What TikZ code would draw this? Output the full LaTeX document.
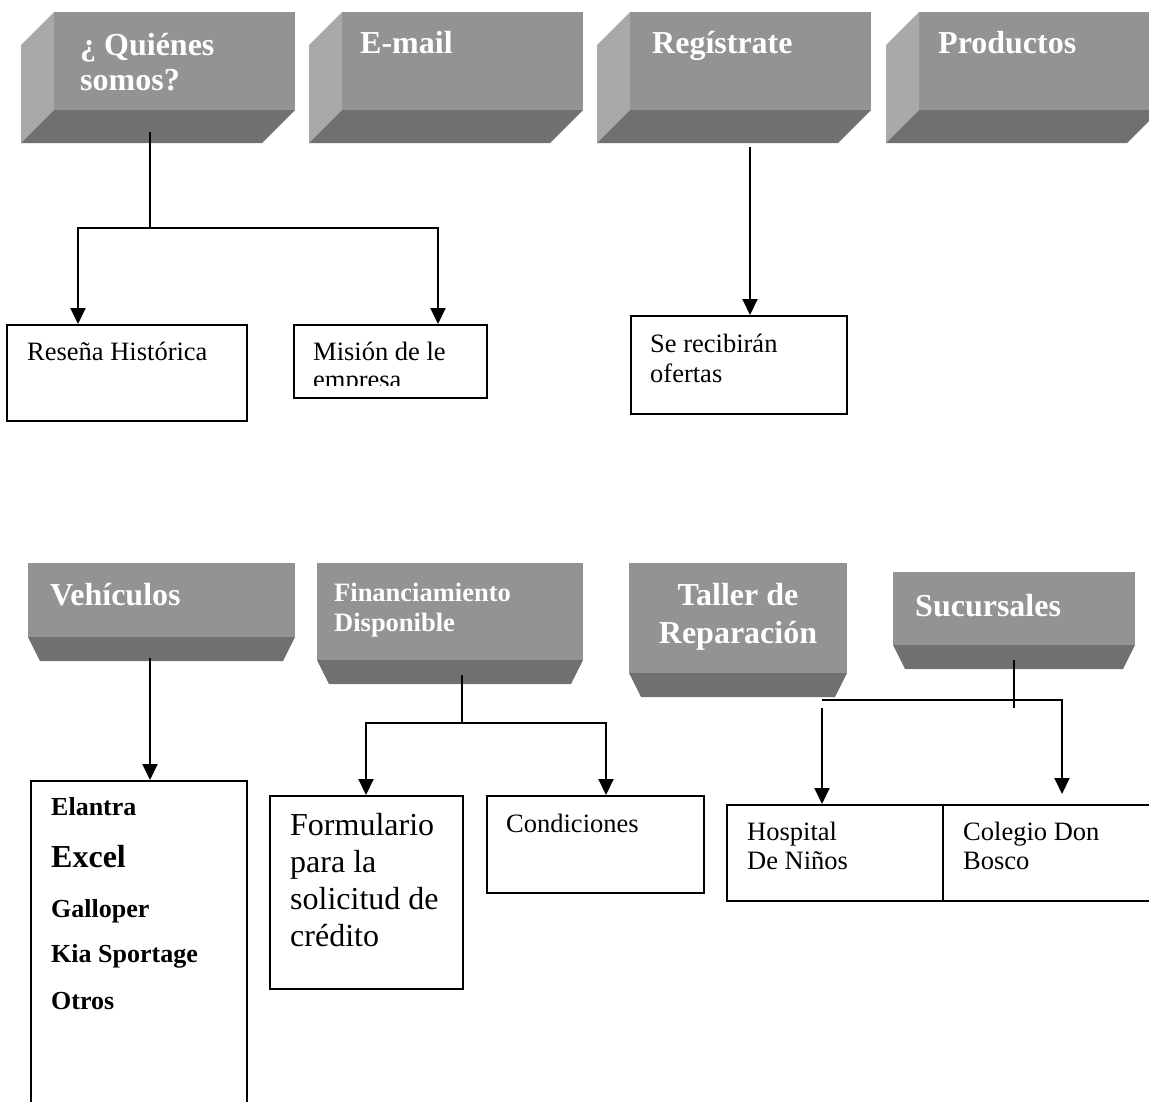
\documentclass[tikz,border=0pt]{standalone}
\usepackage{fontspec}
\setmainfont{Liberation Serif}
\usetikzlibrary{arrows.meta,positioning,calc}
\definecolor{facegray}{HTML}{939393}
\definecolor{sidegray}{HTML}{A9A9A9}
\definecolor{basegray}{HTML}{707070}
\tikzset{
  face/.style ={fill=facegray,anchor=north west,inner sep=0pt,outer sep=0pt},
  side/.style ={fill=sidegray},
  under/.style={fill=basegray},
  hd/.style   ={text=white,font=\bfseries\fontsize{32}{35}\selectfont,anchor=base west,align=left,inner sep=0pt},
  leaf/.style ={draw,line width=2pt,anchor=north west,inner sep=0pt},
  txt/.style  ={font=\fontsize{26.5}{29}\selectfont,anchor=base west,align=left,inner sep=0pt},
  link/.style ={line width=2pt},
  tip/.style  ={line width=2pt,-{Triangle[length=16pt,width=15pt]}},
}
\begin{document}
\begin{tikzpicture}[x=1pt,y=-1pt]
  \useasboundingbox (0,0) rectangle (1149,1101);

  % top row: boxes with a left and a bottom side
  \foreach \n/\x in {quien/54,mail/342,reg/630,prod/919}{
     \node[face,minimum width=241pt,minimum height=98pt] (\n) at (\x,12) {};
     \fill[side] (\n.north west) -- ++(-33,33) -- ($(\n.south west)+(-33,33)$) -- (\n.south west) -- cycle;
     \fill[under] (\n.south west) -- (\n.south east) -- ++(-33,33) -- ($(\n.south west)+(-33,33)$) -- cycle;
  }
  % multi-line texts sit on their last line
  \node[hd] (quientx) at (80,90) {¿ Quiénes\\somos?};
  \node[hd] (mailtx) at (360,53) {E-mail};
  \node[hd] (regtx) at (652,53) {Regístrate};
  \node[hd] (prodtx) at (938,53) {Productos};

  % bottom row: boxes with a sloped underside
  \foreach \n/\x/\y/\w/\h in {veh/28/563/267/74,fin/317/563/266/97,tal/629/563/218/110,suc/893/572/242/73}{
     \node[face,minimum width=\w pt,minimum height=\h pt] (\n) at (\x,\y) {};
     \fill[under] (\n.south west) -- (\n.south east) -- ++(-12,24) -- ($(\n.south west)+(12,24)$) -- cycle;
  }
  \node[hd] (vehtx) at (50,605) {Vehículos};
  \node[hd,font=\bfseries\fontsize{26.5}{30}\selectfont] (fintx) at (334,631) {Financiamiento\\Disponible};
  \node[hd,anchor=base,align=center,font=\bfseries\fontsize{32}{38}\selectfont] (taltx) at (738,643) {Taller de\\Reparación};
  \node[hd] (suctx) at (915,616) {Sucursales};

  % leaves
  \node[leaf,minimum width=240pt,minimum height=96pt] (res) at (6,324) {};
  \node[leaf,minimum width=193pt,minimum height=73pt] (mis) at (293,324) {};
  \node[leaf,minimum width=216pt,minimum height=98pt] (ofe) at (630,315) {};
  \node[leaf,minimum width=216pt,minimum height=340pt] (lst) at (30,780) {};
  \node[leaf,minimum width=193pt,minimum height=193pt] (form) at (269,795) {};
  \node[leaf,minimum width=217pt,minimum height=97pt] (cond) at (486,795) {};
  \node[leaf,minimum width=216pt,minimum height=96pt] (hos) at (726,804) {};
  \node[leaf,minimum width=230pt,minimum height=96pt] (col) at (942,804) {};

  \node[txt] (restx) at (27,360) {Reseña Histórica};
  \begin{scope}
    \clip (293,324) rectangle (486,385);
    \node[txt,font=\fontsize{26.5}{28}\selectfont] (mistx) at (313,388) {Misión de le\\empresa};
  \end{scope}
  \node[txt,font=\fontsize{26.5}{30}\selectfont] (ofetx) at (650,382) {Se recibirán\\ofertas};
  \foreach \t/\y/\s in {Elantra/815/26,Excel/867/32,Galloper/917/26,Kia Sportage/962/26,Otros/1009/26}{
     \node[txt,font=\bfseries\fontsize{\s}{\s}\selectfont] at (51,\y) {\t};
  }
  \node[txt,font=\fontsize{32}{37}\selectfont] (formtx) at (290,946) {Formulario\\para la\\solicitud de\\crédito};
  \node[txt] (condtx) at (506,832) {Condiciones};
  \node[txt] (hostx) at (747,869) {Hospital\\De Niños};
  \node[txt] (coltx) at (963,869) {Colegio Don\\Bosco};

  % connectors
  \coordinate (qa) at ($(quien.south west)+(96,22)$);
  \coordinate (qj) at (150,228);
  \draw[link] (qa) -- (qj);
  \draw[tip] (qj) -| ([xshift=72pt]res.north west);
  \draw[tip] (qj) -| ([xshift=145pt]mis.north west);

  \draw[tip] ($(reg.south west)+(120,37)$) -- ([xshift=120pt]ofe.north west);

  \draw[tip] ($(veh.south west)+(122,21)$) -- ([xshift=120pt]lst.north west);

  \coordinate (fj) at (462,723);
  \draw[link] ($(fin.south west)+(145,15)$) -- (fj);
  \draw[tip] (fj) -| ([xshift=97pt]form.north west);
  \draw[tip] (fj) -| ([xshift=120pt]cond.north west);

  \coordinate (sl) at (822,700);
  \coordinate (sr) at (1062,700);
  \coordinate (slb) at (822,708);
  \draw[link] ($(suc.south west)+(121,15)$) -- (1014,708);
  \draw[tip] (sl) -- (sr) -- ([xshift=120pt,yshift=10pt]col.north west);
  \draw[tip] (slb) -- ([xshift=96pt]hos.north west);
\end{tikzpicture}
\end{document}
